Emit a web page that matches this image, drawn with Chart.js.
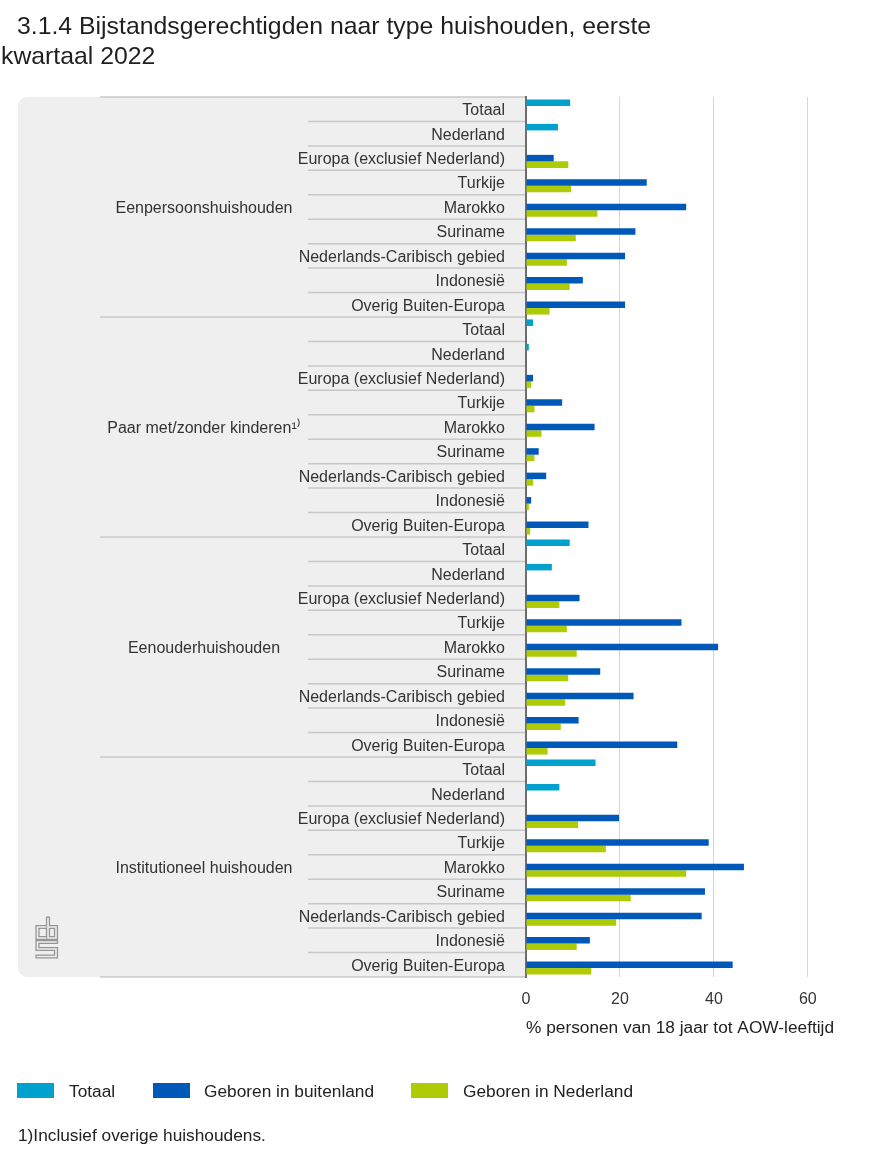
<!DOCTYPE html>
<html lang="nl">
<head>
<meta charset="utf-8">
<title>Bijstandsgerechtigden naar type huishouden</title>
<script src="https://cdn.jsdelivr.net/npm/chart.js@4.4.1/dist/chart.umd.min.js"></script>
<style>
  body { margin: 0; background: #fff; font-family: "Liberation Sans", Arial, sans-serif; color: #222; }
  #wrap { position: absolute; left: 0; top: 0; width: 874px; height: 1165px; overflow: hidden; }
  #chartBox { position: absolute; left: 0; top: 0; width: 874px; height: 1165px; }
  .titel { position: absolute; left: 1px; top: 10.5px; font-size: 24.8px; line-height: 30px; text-indent: 16px; color: #1f1f1f; white-space: nowrap; }
  .leg { position: absolute; top: 1080.5px; font-size: 17.3px; line-height: 20px; color: #222; white-space: nowrap; }
  .box { position: absolute; top: 1083px; width: 37px; height: 15px; }
  .noot { position: absolute; left: 18px; top: 1124.5px; font-size: 17.3px; line-height: 20px; color: #222; white-space: nowrap; }
</style>
</head>
<body>
<div id="wrap">
  <div id="chartBox"><canvas id="myChart"></canvas></div>
  <div class="titel">3.1.4 Bijstandsgerechtigden naar type huishouden, eerste<br>kwartaal 2022</div>
  <div class="box" style="left:17px;background:#00a1cd"></div>
  <div class="leg" style="left:69px">Totaal</div>
  <div class="box" style="left:153px;background:#0058b8"></div>
  <div class="leg" style="left:204px">Geboren in buitenland</div>
  <div class="box" style="left:411px;background:#afcb05"></div>
  <div class="leg" style="left:463px">Geboren in Nederland</div>
  <div class="noot">1)Inclusief overige huishoudens.</div>
</div>
<script>
const groups = [
  "Eenpersoonshuishouden",
  "Paar met/zonder kinderen¹⁾",
  "Eenouderhuishouden",
  "Institutioneel huishouden",
];
const origins = [
  "Totaal",
  "Nederland",
  "Europa (exclusief Nederland)",
  "Turkije",
  "Marokko",
  "Suriname",
  "Nederlands-Caribisch gebied",
  "Indonesië",
  "Overig Buiten-Europa",
];
const xTicks = [0, 20, 40, 60];

// Totaal series: only the rows "Totaal" and "Nederland", one value per group
const totaalTotaal = [9.4, 1.5, 9.3, 14.8];
const totaalNederland = [6.8, 0.6, 5.5, 7.1];

// Europa .. Overig Buiten-Europa, per group
const eenpersoonsBuitenland = [5.9, 25.7, 34.1, 23.3, 21.1, 12.1, 21.1];
const eenpersoonsNederland = [9.0, 9.6, 15.2, 10.6, 8.7, 9.3, 5.0];
const paarBuitenland = [1.5, 7.7, 14.6, 2.7, 4.3, 1.1, 13.3];
const paarNederland = [1.1, 1.8, 3.3, 1.8, 1.5, 0.6, 0.9];
const eenouderBuitenland = [11.4, 33.1, 40.9, 15.8, 22.9, 11.2, 32.2];
const eenouderNederland = [7.1, 8.7, 10.8, 9.0, 8.3, 7.4, 4.6];
const institutioneelBuitenland = [19.8, 38.9, 46.4, 38.1, 37.4, 13.6, 44.0];
const institutioneelNederland = [11.1, 17.0, 34.1, 22.3, 19.2, 10.8, 13.9];

const buitenland = [eenpersoonsBuitenland, paarBuitenland, eenouderBuitenland, institutioneelBuitenland];
const nederland = [eenpersoonsNederland, paarNederland, eenouderNederland, institutioneelNederland];

const labels = [];
const totaalData = [];
const buitenlandData = [];
const nederlandData = [];
groups.forEach((g, gi) => {
  origins.forEach((o) => labels.push(o));
  totaalData.push(totaalTotaal[gi], totaalNederland[gi], ...Array(7).fill(null));
  buitenlandData.push(null, null, ...buitenland[gi]);
  nederlandData.push(null, null, ...nederland[gi]);
});

const FONT = "'Liberation Sans', Arial, sans-serif";
const LABEL_SHIFT = 1.5;

// grey label table, separators, group names and logo left of the axis
const tablePlugin = {
  id: "tabel",
  beforeDraw(chart) {
    const { ctx, chartArea: a, scales } = chart;
    const y = scales.y;
    const n = labels.length;
    const rowH = (a.bottom - a.top) / n;
    ctx.save();
    ctx.fillStyle = "#efefef";
    ctx.beginPath();
    ctx.roundRect(18, a.top, a.left - 18, a.bottom - a.top, [9, 0, 0, 9]);
    ctx.fill();

    ctx.strokeStyle = "#c8c8c8";
    ctx.lineWidth = 1.5;
    for (let i = 0; i <= n; i++) {
      const yy = a.top + i * rowH;
      const x0 = i % origins.length === 0 ? 100 : 308;
      ctx.beginPath();
      ctx.moveTo(x0, yy);
      ctx.lineTo(a.left, yy);
      ctx.stroke();
    }

    ctx.fillStyle = "#333";
    ctx.font = "16px " + FONT;
    ctx.textAlign = "center";
    ctx.textBaseline = "middle";
    groups.forEach((g, gi) => {
      const first = y.getPixelForValue(gi * origins.length);
      const last = y.getPixelForValue(gi * origins.length + origins.length - 1);
      ctx.fillText(g, 204, (first + last) / 2 + LABEL_SHIFT);
    });

    // cbs logo: outlined strokes
    const lx = 36, ly = 917;
    const shapes = [
      [[9.5, 10], [1.5, 10], [1.5, 21], [9.5, 21]],
      [[12, 1.5], [12, 21], [20, 21], [20, 10], [12, 10]],
      [[20, 25], [1.5, 25], [1.5, 32], [20, 32], [20, 39.5], [1.5, 39.5]],
    ];
    const drawShapes = () => {
      shapes.forEach((s) => {
        ctx.beginPath();
        s.forEach(([px, py], k) => (k ? ctx.lineTo(lx + px, ly + py) : ctx.moveTo(lx + px, ly + py)));
        ctx.stroke();
      });
    };
    ctx.lineJoin = "miter";
    ctx.lineCap = "square";
    ctx.strokeStyle = "#959595";
    ctx.lineWidth = 4.2;
    drawShapes();
    ctx.strokeStyle = "#efefef";
    ctx.lineWidth = 1.6;
    drawShapes();
    ctx.restore();
  },
};

const ctx = document.getElementById("myChart");
const chart = new Chart(ctx, {
  type: "bar",
  data: {
    labels: labels,
    datasets: [
      { label: "Totaal", data: totaalData, backgroundColor: "#00a1cd" },
      { label: "Geboren in buitenland", data: buitenlandData, backgroundColor: "#0058b8" },
      { label: "Geboren in Nederland", data: nederlandData, backgroundColor: "#afcb05" },
    ],
  },
  plugins: [tablePlugin],
  options: {
    indexAxis: "y",
    responsive: true,
    maintainAspectRatio: false,
    animation: false,
    datasets: {
      bar: { categoryPercentage: 0.8, barPercentage: 1.0, borderWidth: 0, skipNull: false },
    },
    layout: {
      padding: { top: 97, left: 0, right: 38, bottom: 126 },
    },
    plugins: {
      legend: { display: false },
      title: { display: false },
      tooltip: { enabled: false },
    },
    scales: {
      x: {
        type: "linear",
        min: 0,
        max: 66,
        afterBuildTicks: (scale) => {
          scale.ticks = xTicks.map((v) => ({ value: v }));
        },
        ticks: {
          stepSize: 20,
          includeBounds: false,
          color: "#333",
          padding: 13,
          font: { size: 16, family: FONT },
        },
        grid: {
          drawTicks: false,
          color: (c) => (c.tick && c.tick.value === 0 ? "rgba(0,0,0,0)" : "#d6d6d6"),
          lineWidth: 1,
        },
        border: { display: false },
        title: {
          display: true,
          text: "% personen van 18 jaar tot AOW-leeftijd",
          align: "start",
          color: "#222",
          font: { size: 17.3, family: FONT },
          padding: { top: 12, bottom: 0 },
        },
        afterFit: (scale) => {
          scale.height = 62;
        },
      },
      y: {
        type: "category",
        grid: { display: false, drawTicks: false },
        border: { display: true, color: "#6e6e6e", width: 2 },
        ticks: {
          autoSkip: false,
          color: "#333",
          padding: 21,
          labelOffset: LABEL_SHIFT,
          font: { size: 16, family: FONT },
        },
        afterFit: (scale) => {
          scale.width = 526;
        },
      },
    },
  },
});
</script>
</body>
</html>
